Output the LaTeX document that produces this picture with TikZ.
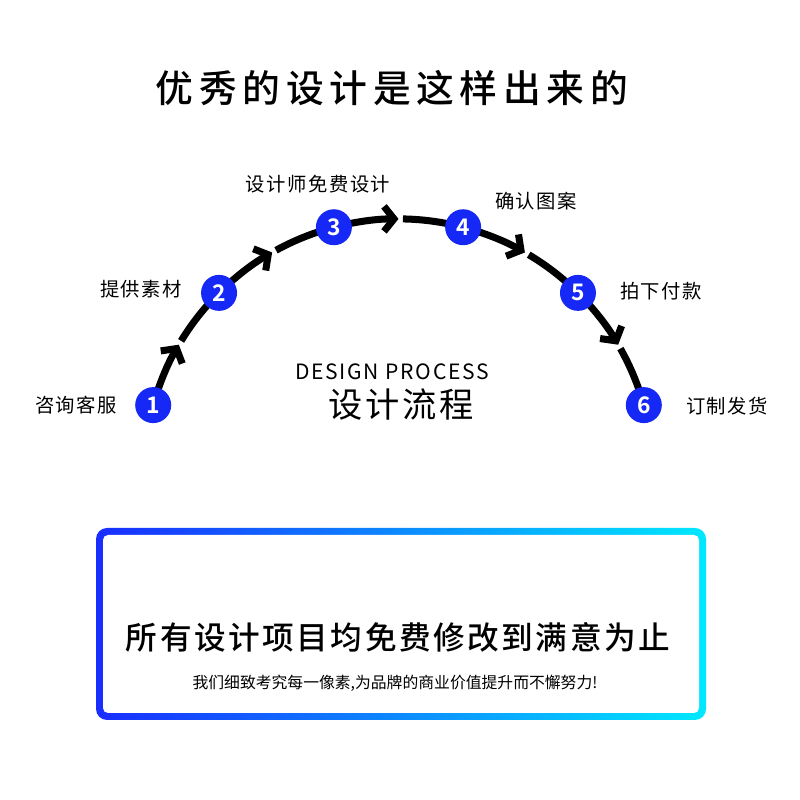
\documentclass[tikz,border=0pt]{standalone}
\usepackage{fontspec}
\usetikzlibrary{arrows.meta,calc}
\newfontfamily\cjk{Noto Sans CJK SC}[BoldFont={Noto Sans CJK SC Bold}]
\newfontfamily\cjkmed{Noto Sans CJK SC Medium}[LetterSpace=15]
\newfontfamily\cjkmedsp{Noto Sans CJK SC Medium}[LetterSpace=8]
\newfontfamily\cjksp{Noto Sans CJK SC}[LetterSpace=8]
\definecolor{stepblue}{RGB}{22,40,245}
\definecolor{boxblue}{RGB}{25,45,255}
\definecolor{boxcyan}{RGB}{0,232,255}
\tikzstyle{num} = [circle, fill=stepblue, text=white, minimum size=0.72cm,
    inner sep=0pt, font=\cjk\bfseries\fontsize{13}{13}\selectfont]
\tikzstyle{lbl} = [font=\cjksp\fontsize{11}{11}\selectfont]
\tikzstyle{flow} = [line width=4pt, black]
\tikzstyle{chev} = [-{Straight Barb[length=0.2cm,width=0.5cm]}]
\newcommand{\R}{5.094}

\begin{document}
\begin{tikzpicture}
  \useasboundingbox (0,0) rectangle (16,16);
  \coordinate (o) at (7.97,6.528);
  \foreach \a [count=\i] in {164.4,134.8,104.7,75.3,45.2,15.6}
    \coordinate (p\i) at ($(o)+(\a:\R)$);

  % arc with a chevron half way
  \foreach \a/\b/\i/\j in {164.4/134.8/1/2,134.8/104.7/2/3,104.7/75.3/3/4,
                           75.3/45.2/4/5,45.2/15.6/5/6} {
    \pgfmathsetmacro\m{(\a+\b)/2}
    \draw[flow,chev] (p\i) arc[start angle=\a, end angle=\m, radius=\R];
    \draw[flow] (p\j) arc[start angle=\b, end angle=\m-1.0, radius=\R];
  }

  \foreach \i in {1,...,6}
    \node[num] (s\i) at (p\i) {\i};

  \node[lbl] (l1) at (1.52,7.90) {咨询客服};
  \node[lbl] (l2) at (2.82,10.22) {提供素材};
  \node[lbl] (l3) at (6.36,12.32) {设计师免费设计};
  \node[lbl] (l4) at (10.72,11.98) {确认图案};
  \node[lbl] (l5) at (13.22,10.18) {拍下付款};
  \node[lbl] (l6) at (14.54,7.88) {订制发货};

  \node[font=\cjkmed\fontsize{21.5}{21.5}\selectfont] (title) at (7.84,14.24)
    {优秀的设计是这样出来的};
  \node[font=\cjksp\fontsize{12}{12}\selectfont] (en) at (7.84,8.56) {DESIGN PROCESS};
  \node[font=\cjksp\fontsize{19.5}{19.5}\selectfont] (zh) at (8.02,7.90) {设计流程};

  % box with gradient border
  \shade[left color=boxblue, right color=boxcyan, rounded corners=0.22cm]
    (1.92,1.60) rectangle (14.12,5.44);
  \fill[white, rounded corners=0.1cm] (2.06,1.74) rectangle (13.98,5.30);
  \node[font=\cjkmedsp\fontsize{18}{18}\selectfont] (main) at (7.96,3.26)
    {所有设计项目均免费修改到满意为止};
  \node[font=\cjk\fontsize{9}{9}\selectfont] (sub) at (7.90,2.34)
    {我们细致考究每一像素,为品牌的商业价值提升而不懈努力!};
\end{tikzpicture}
\end{document}
